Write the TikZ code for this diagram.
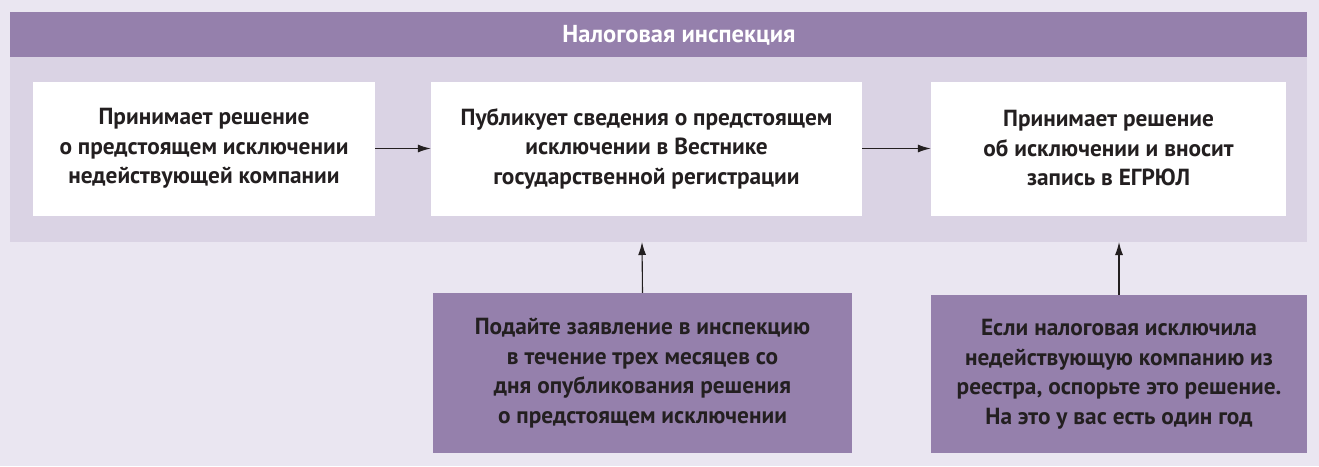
\documentclass[tikz,border=0pt]{standalone}
\usepackage{fontspec}
\setmainfont{PT Sans}
\usetikzlibrary{arrows.meta}
\definecolor{bgc}{HTML}{EAE6F1}
\definecolor{panelc}{HTML}{DAD3E4}
\definecolor{purp}{HTML}{9580AC}
\definecolor{txt}{HTML}{231F20}
\tikzset{
  box/.style={fill=white, draw=none, inner sep=0pt, align=center, text=txt,
    font=\fontsize{23.3}{29.5}\selectfont\bfseries},
  pbox/.style={fill=purp, draw=none, inner sep=0pt, align=center, text=txt,
    font=\fontsize{23.3}{29.5}\selectfont\bfseries},
  conn/.style={draw=txt, line width=1.1pt, -{Latex[length=13pt,width=8pt]}}
}
\begin{document}
\begin{tikzpicture}[x=1pt,y=-1pt]
\useasboundingbox (0,0) rectangle (1319,466);
\fill[bgc] (0,0) rectangle (1319,466);
\fill[panelc] (10,57) rectangle (1307,242);
\fill[purp] (10,12) rectangle (1307,57);
\node[text=white, font=\fontsize{24.5}{28}\selectfont\bfseries] (hdr) at (679,35) {Налоговая инспекция};
\node[box, minimum width=342pt, minimum height=134pt] (b1) at (204,148.5) {Принимает решение\\о предстоящем исключении\\недействующей компании};
\node[box, minimum width=431pt, minimum height=134pt] (b2) at (646.5,148.5) {Публикует сведения о предстоящем\\исключении в Вестнике\\государственной регистрации};
\node[box, minimum width=355pt, minimum height=134pt] (b3) at (1108.5,148.5) {Принимает решение\\об исключении и вносит\\запись в ЕГРЮЛ};
\node[pbox, minimum width=419pt, minimum height=160pt] (b4) at (642.5,373) {Подайте заявление в инспекцию\\в течение трех месяцев со\\дня опубликования решения\\о предстоящем исключении};
\node[pbox, minimum width=376pt, minimum height=158pt] (b5) at (1119,374) {Если налоговая исключила\\недействующую компанию из\\реестра, оспорьте это решение.\\На это у вас есть один год};
\coordinate (t4) at (642,242);
\coordinate (t5) at (1119,242);
\draw[conn] (b1.east) -- (b2.west);
\draw[conn] (b2.east) -- (b3.west);
\draw[conn] (b4.north) -- (t4);
\draw[conn] (b5.north) -- (t5);
\end{tikzpicture}
\end{document}
